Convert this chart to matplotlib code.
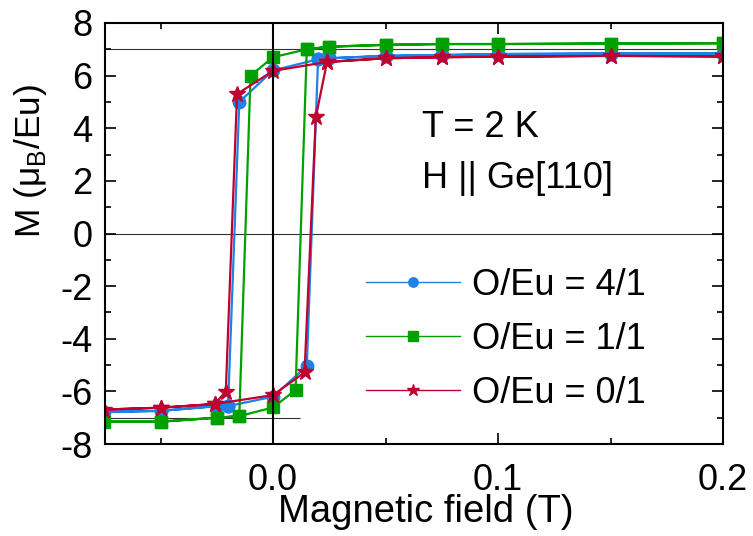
import matplotlib
matplotlib.use("Agg")
import matplotlib.pyplot as plt
from matplotlib.lines import Line2D
from matplotlib.ticker import MultipleLocator

# full loop for each sample: sweep down from 0.2 T, then back up
h_41 = [0.2, 0.15, 0.1, 0.075, 0.05, 0.025, 0.02, 0.0, -0.015, -0.02, -0.025, -0.05, -0.075,
        -0.05, -0.025, -0.02, 0.0, 0.015, 0.02, 0.025, 0.05, 0.075, 0.1, 0.15, 0.2]
m_41 = [6.84, 6.84, 6.82, 6.78, 6.75, 6.66, 6.62, 6.2, 5.0, -6.56, -6.56, -6.74, -6.78,
        -6.74, -6.56, -6.56, -6.2, -5.04, 6.62, 6.66, 6.75, 6.78, 6.82, 6.84, 6.84]

h_11 = [0.2, 0.15, 0.1, 0.075, 0.05, 0.025, 0.015, 0.0, -0.01, -0.015, -0.025, -0.05, -0.075,
        -0.05, -0.025, -0.015, 0.0, 0.01, 0.015, 0.025, 0.05, 0.075, 0.1, 0.15, 0.2]
m_11 = [7.23, 7.22, 7.2, 7.2, 7.17, 7.1, 7.0, 6.7, 6.0, -6.94, -7.0, -7.15, -7.15,
        -7.15, -7.0, -6.94, -6.61, -5.95, 7.0, 7.1, 7.17, 7.2, 7.2, 7.22, 7.23]

h_01 = [0.2, 0.15, 0.1, 0.075, 0.05, 0.024, 0.0, -0.016, -0.021, -0.026, -0.05, -0.075,
        -0.05, -0.026, 0.0, 0.014, 0.019, 0.024, 0.05, 0.075, 0.1, 0.15, 0.2]
m_01 = [6.73, 6.75, 6.72, 6.7, 6.66, 6.52, 6.18, 5.3, -6.01, -6.48, -6.62, -6.69,
        -6.62, -6.48, -6.14, -5.28, 4.42, 6.52, 6.66, 6.7, 6.72, 6.75, 6.73]

labels = ["O/Eu = 4/1", "O/Eu = 1/1", "O/Eu = 0/1"]
colors = ["#1f80e6", "#00a000", "#c0002e"]
markers = ["o", "s", "*"]
msizes = [9, 9, 12]

plt.rcParams["font.family"] = ["Liberation Sans", "DejaVu Sans"]
plt.rcParams["mathtext.fontset"] = "custom"
plt.rcParams["mathtext.rm"] = "Liberation Sans"
plt.rcParams["axes.unicode_minus"] = False

fig = plt.figure(figsize=(7.53, 5.36), dpi=100)
ax = fig.add_axes([0.1394, 0.1716, 0.8208, 0.7855])

# reference lines
ax.axhline(0, color="#333333", lw=0.8, zorder=1)
ax.axhline(7, color="#333333", lw=0.8, zorder=1)
ax.hlines(-7, -0.1, 0.012, color="#333333", lw=0.8, zorder=1)
ax.axvline(0, color="black", lw=1.5, zorder=3)

for h, m, c, mk, ms, lab in zip([h_41, h_11, h_01], [m_41, m_11, m_01],
                                colors, markers, msizes, labels):
    ax.plot(h, m, color=c, marker=mk, ms=ms, mec=c, lw=1.6, label=lab, zorder=2)

ax.set_xlim(-0.0747, 0.2)
ax.set_ylim(-8, 8)
ax.xaxis.set_major_locator(MultipleLocator(0.1))
ax.xaxis.set_minor_locator(MultipleLocator(0.05))
ax.yaxis.set_major_locator(MultipleLocator(2))
ax.yaxis.set_minor_locator(MultipleLocator(1))
ax.tick_params(which="both", direction="in", top=True, right=True, width=1.2)
ax.tick_params(which="major", length=8)
ax.tick_params(which="minor", length=4.5)
ax.tick_params(axis="x", which="major", labelsize=26, pad=14)
ax.tick_params(axis="y", which="major", labelsize=26, pad=9)
ax.set_xticks([0.0, 0.1, 0.2])
ax.set_xticklabels(["0.0", "0.1", "0.2"])
for sp in ax.spines.values():
    sp.set_linewidth(1.5)

ax.set_xlabel("Magnetic field (T)", fontsize=27.5)
ax.set_ylabel("M (μ$_\\mathregular{B}$/Eu)", fontsize=25.5)
ax.xaxis.set_label_coords(0.519, -0.119)
ax.yaxis.set_label_coords(-0.09, 0.673)

ax.text(0.513, 0.729, "T = 2 K", transform=ax.transAxes, fontsize=26, va="baseline")
ax.text(0.513, 0.608, "H || Ge[110]", transform=ax.transAxes, fontsize=26, va="baseline")

handles = [Line2D([], [], color=c, marker=mk, ms=ms * 0.75, mec=c, lw=1.0)
           for c, mk, ms in zip(colors, markers, msizes)]
ax.legend(handles, labels, loc="upper left", bbox_to_anchor=(366 / 753, 1 - 268 / 536),
          bbox_transform=fig.transFigure, frameon=False, fontsize=26, borderpad=0,
          borderaxespad=0, handlelength=2.6, handletextpad=0.33, labelspacing=0.52)

fig.savefig("out.png", dpi=100)
